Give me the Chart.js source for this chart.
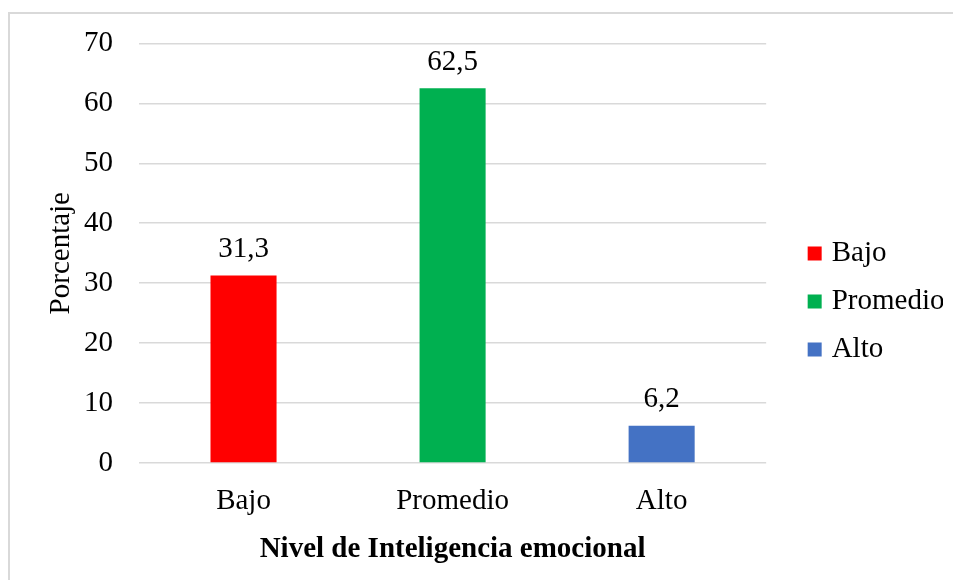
<!DOCTYPE html>
<html>
<head>
<meta charset="utf-8">
<script src="https://cdn.jsdelivr.net/npm/chart.js@4/dist/chart.umd.min.js"></script>
<style>
  html, body { margin: 0; padding: 0; background: #fff; }
  #marco { position: absolute; left: 8px; top: 12px; width: 960px; height: 600px; border: 2px solid #d9d9d9; pointer-events: none; }
  #contenedor { position: absolute; left: 0; top: 0; width: 953px; height: 580px; }
</style>
</head>
<body>
<div id="contenedor"><canvas id="chart-nivel"></canvas></div>
<div id="marco"></div>
<script>
// Datos del gráfico
const categorias = ['Bajo', 'Promedio', 'Alto'];
const porcentajes = [31.3, 62.5, 6.2];
const colores = ['#ff0000', '#00b050', '#4472c4'];
const ticksY = [0, 10, 20, 30, 40, 50, 60, 70];

const fuente = "'Liberation Serif', 'Times New Roman', serif";
const tam = 29;

// Etiquetas de valor encima de cada barra (con coma decimal)
const etiquetasValor = {
    id: 'etiquetasValor',
    afterDatasetsDraw(chart) {
        const ctx = chart.ctx;
        const meta = chart.getDatasetMeta(0);
        ctx.save();
        ctx.font = tam + 'px ' + fuente;
        ctx.fillStyle = '#000';
        ctx.textAlign = 'center';
        ctx.textBaseline = 'middle';
        meta.data.forEach((barra, i) => {
            const texto = porcentajes[i].toFixed(1).replace('.', ',');
            ctx.fillText(texto, barra.x, barra.y - 26);
        });
        ctx.restore();
    }
};

// Caja vacía entre el área del gráfico y la leyenda (separación)
const separador = {
    id: 'separador',
    beforeInit(chart) {
        Chart.layouts.addBox(chart, {
            position: 'right',
            weight: 500,
            fullSize: false,
            options: {},
            width: 27,
            height: 0,
            isHorizontal() { return false; },
            update(maxWidth, maxHeight) { this.width = 27; this.height = maxHeight; },
            draw() {}
        });
    }
};

function crearGrafico() {
    const ctx = document.getElementById('chart-nivel').getContext('2d');

    new Chart(ctx, {
        type: 'bar',
        data: {
            labels: categorias,
            datasets: [{
                label: 'Porcentaje',
                data: porcentajes,
                backgroundColor: colores,
                borderWidth: 0,
                barPercentage: 0.316,
                categoryPercentage: 1
            }]
        },
        options: {
            responsive: true,
            maintainAspectRatio: false,
            animation: false,
            layout: { padding: { left: 44, top: 26, right: 10, bottom: 13 } },
            plugins: {
                tooltip: { enabled: false },
                legend: {
                    position: 'right',
                    title: { display: true, text: ' ', font: { size: 5 }, padding: 2 },
                    labels: {
                        color: '#000',
                        font: { family: fuente, size: tam },
                        boxWidth: 5,
                        boxHeight: 5,
                        padding: 19,
                        generateLabels: () => categorias.map((c, i) => ({
                            text: c,
                            fillStyle: colores[i],
                            strokeStyle: colores[i],
                            fontColor: '#000',
                            lineWidth: 9,
                            hidden: false,
                            index: i
                        }))
                    }
                }
            },
            scales: {
                x: {
                    afterFit: (eje) => { eje.height = 104; },
                    grid: { display: false, drawTicks: false },
                    border: { display: false },
                    ticks: { color: '#000', font: { family: fuente, size: tam }, padding: 21 },
                    title: {
                        display: true,
                        text: 'Nivel de Inteligencia emocional',
                        color: '#000',
                        font: { family: fuente, size: tam, weight: 'bold' },
                        padding: 0
                    }
                },
                y: {
                    min: 0,
                    max: 70,
                    afterFit: (eje) => { eje.width = 95; },
                    afterBuildTicks: (eje) => { eje.ticks = ticksY.map(v => ({ value: v })); },
                    grid: { color: '#d9d9d9', lineWidth: 1.5, drawTicks: false },
                    border: { display: false },
                    ticks: { color: '#000', font: { family: fuente, size: tam }, padding: 26 },
                    title: {
                        display: true,
                        text: 'Porcentaje',
                        color: '#000',
                        font: { family: fuente, size: tam },
                        padding: 0
                    }
                }
            }
        },
        plugins: [etiquetasValor, separador]
    });
}

crearGrafico();
</script>
</body>
</html>
